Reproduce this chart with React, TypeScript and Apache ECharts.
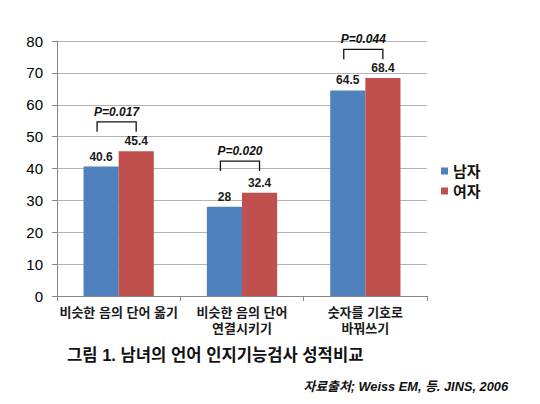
import * as echarts from "echarts"
import { useEffect, useRef } from "react"

const categories = ["비슷한 음의 단어 옮기", "비슷한 음의 단어\n연결시키기", "숫자를 기호로\n바꿔쓰기"]
const maleValues = [40.6, 28, 64.5]
const femaleValues = [45.4, 32.4, 68.4]
const pLabels = ["P=0.017", "P=0.020", "P=0.044"]
const bracketTops = [54.6, 42.3, 77.4]
const bracketLeg = 3.1

const font = "Arial, 'Liberation Sans', 'Noto Sans CJK KR', sans-serif"
const blue = "#4F81BD"
const red = "#C0504D"

export default function App() {
  const node = useRef<HTMLDivElement>(null)

  useEffect(() => {
    if (!node.current) return
    const chart = echarts.init(node.current, undefined, { renderer: "svg" })
    chart.setOption({
      animation: false,
      textStyle: { fontFamily: font, color: "#000" },
      title: [
        {
          text: "그림 1. 남녀의 언어 인지기능검사 성적비교",
          left: 67,
          top: 347,
          padding: 0,
          textStyle: { fontSize: 16.6, fontWeight: "bold", color: "#111", fontFamily: font },
        },
        {
          text: "자료출처; Weiss EM, 등. JINS, 2006",
          right: 32,
          top: 380,
          padding: 0,
          textStyle: {
            fontSize: 12.8,
            fontWeight: "bold",
            fontStyle: "italic",
            color: "#111",
            fontFamily: font,
          },
        },
      ],
      legend: {
        data: ["남자", "여자"],
        orient: "vertical",
        left: 441,
        top: 163,
        padding: 0,
        itemWidth: 7,
        itemHeight: 7,
        itemGap: 4,
        icon: "rect",
        textStyle: { fontSize: 15, fontWeight: "bold", color: "#111", lineHeight: 16, fontFamily: font },
      },
      grid: { left: 57, right: 113, top: 41, bottom: 108 },
      xAxis: {
        type: "category",
        data: categories,
        axisLine: { lineStyle: { color: "#868686" } },
        axisTick: { show: true, length: 5, lineStyle: { color: "#868686" } },
        axisLabel: {
          interval: 0,
          margin: 8,
          fontSize: 13,
          fontWeight: "bold",
          lineHeight: 16,
          color: "#1a1a1a",
          fontFamily: font,
        },
      },
      yAxis: {
        type: "value",
        min: 0,
        max: 80,
        interval: 10,
        axisLine: { show: true, lineStyle: { color: "#868686" } },
        axisTick: { show: true, length: 5, lineStyle: { color: "#868686" } },
        axisLabel: { fontSize: 15, margin: 14, color: "#000", fontFamily: font },
        splitLine: { lineStyle: { color: "#B3B3B3" } },
      },
      series: [
        {
          name: "남자",
          type: "bar",
          data: maleValues,
          barGap: "0%",
          barCategoryGap: "43%",
          itemStyle: { color: blue },
          label: {
            show: true,
            position: "top",
            distance: 4,
            fontSize: 12,
            fontWeight: "bold",
            color: "#1a1a1a",
            fontFamily: font,
          },
        },
        {
          name: "여자",
          type: "bar",
          data: femaleValues,
          barGap: "0%",
          barCategoryGap: "43%",
          itemStyle: { color: red },
          label: {
            show: true,
            position: "top",
            distance: 4,
            fontSize: 12,
            fontWeight: "bold",
            color: "#1a1a1a",
            fontFamily: font,
          },
        },
        {
          name: "bracket",
          type: "custom",
          silent: true,
          z: 5,
          data: bracketTops.map((top, i) => [i, top]),
          renderItem: (params: any, api: any) => {
            const c = api.value(0)
            const top = api.value(1)
            const [cx, yTop] = api.coord([c, top])
            const [, yLeg] = api.coord([c, top - bracketLeg])
            const band = api.size([1, 0])[0]
            const x1 = cx - band * 0.175
            const x2 = cx + band * 0.142
            return {
              type: "group",
              children: [
                {
                  type: "polyline",
                  shape: {
                    points: [
                      [x1, yLeg],
                      [x1, yTop],
                      [x2, yTop],
                      [x2, yLeg],
                    ],
                  },
                  style: { stroke: "#111", lineWidth: 1.3, fill: null },
                },
                {
                  type: "text",
                  style: {
                    text: pLabels[params.dataIndex],
                    x: (x1 + x2) / 2,
                    y: yTop - 4,
                    align: "center",
                    verticalAlign: "bottom",
                    fontSize: 12,
                    fontWeight: "bold",
                    fontStyle: "italic",
                    fontFamily: font,
                    fill: "#111",
                  },
                },
              ],
            }
          },
        },
      ],
    })
    return () => chart.dispose()
  }, [])

  return (
    <div
      ref={node}
      style={{ position: "absolute", left: 0, top: 0, width: 540, height: 404, background: "#fff" }}
    />
  )
}
